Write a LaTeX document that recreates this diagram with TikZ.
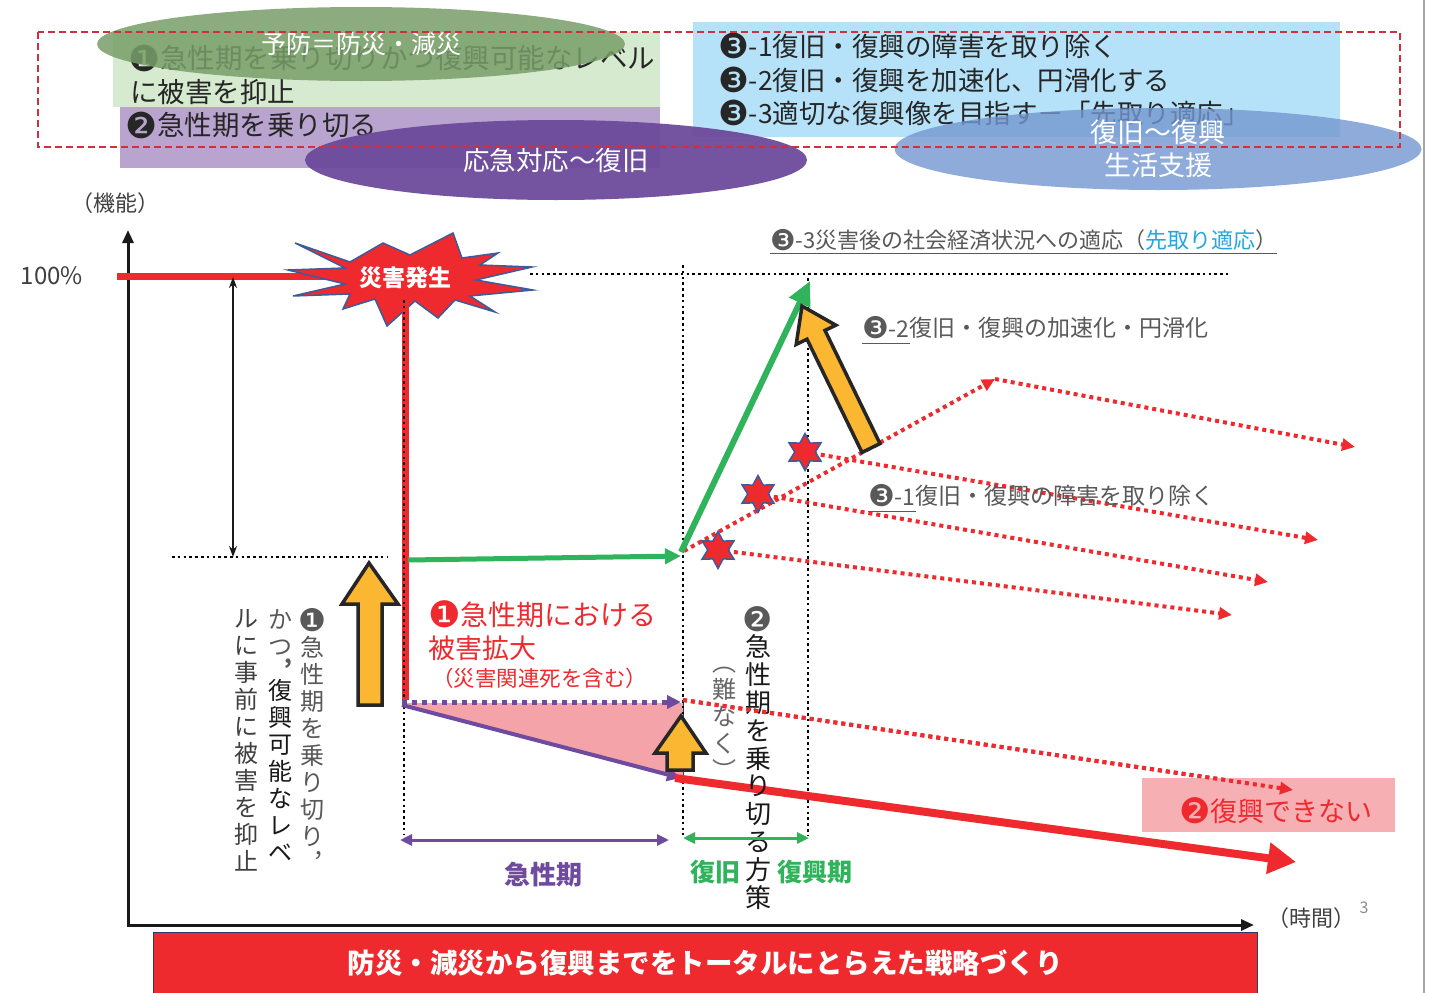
\documentclass[tikz,border=0pt]{standalone}
\usepackage{fontspec}
\usepackage{graphicx}
\setmainfont{Noto Sans CJK JP}
\newfontfamily\djv{DejaVu Sans}
\usetikzlibrary{arrows.meta,shapes.geometric}
\newcommand\cnum[1]{\raisebox{-0.08em}{\scalebox{1.3}{\djv #1}}}
\newcommand\fsz[1]{\fontsize{#1}{#1}\selectfont}
\definecolor{myred}{HTML}{EE2A2F}
\definecolor{mygreen}{HTML}{2FB35B}
\definecolor{mypurple}{HTML}{6F4BA0}
\definecolor{orangef}{HTML}{FBB632}
\definecolor{starblue}{HTML}{3A5C9C}
\definecolor{egreen}{HTML}{789E69}
\definecolor{lgreen}{HTML}{D6EAD0}
\definecolor{lpurple}{HTML}{B9A4CF}
\definecolor{epurple}{HTML}{6D4A9C}
\definecolor{lblue}{HTML}{B5E2F8}
\definecolor{eblue}{HTML}{7397D1}
\definecolor{pinkfill}{HTML}{F4A3A8}
\definecolor{pinkbox}{HTML}{F6AFB3}
\definecolor{cyanc}{HTML}{22A7E0}
\definecolor{txtgray}{HTML}{595959}
\definecolor{navy}{HTML}{2B3A67}
\definecolor{dashred}{HTML}{D0303E}
\begin{document}
\begin{tikzpicture}[x=1pt,y=-1pt,
  blackdot/.style={black, line width=2.6pt, dash pattern=on 2.6pt off 3.2pt},
  reddot/.style={myred, line width=4pt, dash pattern=on 4pt off 4pt, -{Triangle[length=13pt,width=12pt]}},
  blockarrow/.style={fill=orangef, draw=black!85, line width=3.5pt, line join=miter},
  txt/.style={inner sep=0pt, outer sep=0pt},
  boxr/.style={anchor=north west, inner sep=0pt, outer sep=0pt},
  ell/.style={ellipse, inner sep=0pt, fill opacity=0.85, text opacity=1, text=white},
  starnode/.style={star, star points=6, star point ratio=1.8, minimum size=37pt, inner sep=0pt, fill=myred, draw=starblue, line width=1.5pt},
  vert/.style={inner sep=0pt, anchor=north, align=center, font=\fontsize{24}{27}\selectfont},
  ]
\useasboundingbox (0,0) rectangle (1430,993);
\fill[white] (0,0) rectangle (1430,993);
\draw[black!35, line width=1.2pt] (1424,0) -- (1424,993);

% ---------- top boxes ----------
\node[boxr, fill=lgreen, minimum width=547pt, minimum height=75pt] (gbox) at (113,32) {};
\node[boxr, fill=lpurple, minimum width=540pt, minimum height=61pt] (pbox) at (120,107) {};
\node[boxr, fill=lblue, minimum width=647pt, minimum height=115pt] (bbox) at (693,22) {};

\node[txt, anchor=west, font=\fsz{27.5}, text=black!85] (t1a) at (128,58) {\cnum{❶}急性期を乗り切りかつ復興可能なレベル};
\node[txt, anchor=west, font=\fsz{27.5}, text=black!85] (t1b) at (130,92) {に被害を抑止};
\node[txt, anchor=west, font=\fsz{27.5}, text=black!85] (t2) at (125,125) {\cnum{❷}急性期を乗り切る};
\node[txt, anchor=west, font=\fsz{26.5}, text=black!85] (t31) at (718,46) {\cnum{❸}-1復旧・復興の障害を取り除く};
\node[txt, anchor=west, font=\fsz{26.5}, text=black!85] (t32) at (718,80) {\cnum{❸}-2復旧・復興を加速化、円滑化する};
\node[txt, anchor=west, font=\fsz{26.5}, text=black!85] (t33) at (718,113) {\cnum{❸}-3適切な復興像を目指す－「先取り適応」};

\node[ell, fill=egreen, minimum width=528pt, minimum height=74pt, font=\fsz{25}] (eG) at (361,44) {予防＝防災・減災};
\node[ell, fill=epurple, fill opacity=0.95, minimum width=502pt, minimum height=80pt, font=\fsz{26.5}] (eP) at (556,160) {応急対応～復旧};
\node[ell, fill=eblue, fill opacity=0.8, minimum width=527pt, minimum height=82pt, align=center, font=\fontsize{27}{33}\selectfont] (eB) at (1158,149) {復旧～復興\\生活支援};

\draw[dashred, line width=1.6pt, dash pattern=on 7pt off 4pt] (38,32) rectangle (1400,147);

% ---------- coordinates ----------
\coordinate (Ytop) at (128,230);
\coordinate (O) at (128,925);
\coordinate (Xend) at (1254,925);
\coordinate (R100a) at (117,276);
\coordinate (R100b) at (330,276);
\coordinate (Da) at (233,277);
\coordinate (Db) at (233,557);
\coordinate (Ha) at (172,557);
\coordinate (Hb) at (388,557);
\coordinate (Va) at (405,296);
\coordinate (Vb) at (405,700);
\coordinate (Vc) at (404,300);
\coordinate (Vd) at (404,835);
\coordinate (W1a) at (683,265);
\coordinate (W1b) at (683,835);
\coordinate (W2a) at (808,278);
\coordinate (W2b) at (808,835);
\coordinate (Ta) at (530,274);
\coordinate (Tb) at (1228,274);
\coordinate (G0) at (408,560);
\coordinate (G1) at (681,556);
\coordinate (G1b) at (681,552);
\coordinate (G2) at (810,281);
\coordinate (R0) at (684,551);
\coordinate (R1) at (995,379);
\coordinate (R2) at (1355,447);
\coordinate (E1) at (1232,615);
\coordinate (E2) at (1268,582);
\coordinate (E3) at (1318,540);
\coordinate (Q0) at (683,700);
\coordinate (Q1) at (1293,790);
\coordinate (K0) at (675,778);
\coordinate (K1) at (1296,862);
\coordinate (P0) at (402,702);
\coordinate (P1) at (681,702);
\coordinate (P2) at (402,705);
\coordinate (P3) at (681,778);
\coordinate (A0) at (400,840);
\coordinate (A1) at (669,840);
\coordinate (B0) at (683,838);
\coordinate (B1) at (809,838);

% pink loss area
\fill[pinkfill] (402,703) -- (683,703) -- (683,781) -- cycle;
\draw[navy, line width=1pt] (683,703) -- (683,781);

% axes
\draw[black!90, line width=3pt, {Triangle[length=13pt,width=11pt]}-{Triangle[length=13pt,width=11pt]}] (Ytop) -- (O) -- (Xend);

% 100% level
\draw[myred, line width=7pt] (R100a) -- (R100b);
\draw[blackdot] (Ta) -- (Tb);
\draw[black!90, line width=1.6pt, {Stealth[length=11pt,width=8pt]}-{Stealth[length=11pt,width=8pt]}] (Da) -- (Db);
\draw[blackdot] (Ha) -- (Hb);

% vertical guides
\draw[myred, line width=7pt] (Va) -- (Vb);
\draw[blackdot] (Vc) -- (Vd);
\draw[blackdot] (W1a) -- (W1b);
\draw[blackdot] (W2a) -- (W2b);

% red dotted lines
\draw[reddot] (Q0) -- (Q1);
\draw[reddot] (R0) -- (R1);
\draw[reddot] (R1) -- (R2);
\coordinate (s1c) at (718,550);
\coordinate (s2c) at (758,494);
\coordinate (s3c) at (805,452);
\draw[reddot] (s1c) -- (E1);
\draw[reddot] (s2c) -- (E2);
\draw[reddot] (s3c) -- (E3);
\node[starnode] (s1) at (s1c) {};
\node[starnode] (s2) at (s2c) {};
\node[starnode] (s3) at (s3c) {};

% purple lines
\draw[mypurple, line width=5pt, dash pattern=on 5pt off 5pt, -{Triangle[length=14pt,width=13pt]}] (P0) -- (P1);
\draw[mypurple, line width=4pt, -{Triangle[length=14pt,width=13pt]}] (P2) -- (P3);

% red thick decline
\draw[myred, line width=8pt, -{Triangle[length=28pt,width=30pt]}] (K0) -- (K1);

% green recovery
\draw[mygreen, line width=5pt, -{Triangle[length=16pt,width=15pt]}] (G0) -- (G1);
\draw[mygreen, line width=6pt, -{Triangle[length=24pt,width=22pt]}] (G1b) -- (G2);

% orange block arrows
\draw[blockarrow] (369,563) -- (398,604) -- (382,604) -- (382,705) -- (358,705) -- (358,604) -- (342,604) -- cycle;
\draw[blockarrow] (681,716) -- (706,753) -- (693,753) -- (693,770) -- (667,770) -- (667,753) -- (655,753) -- cycle;
\draw[blockarrow] (802,306) -- (835.8,325.2) -- (825,330.4) -- (880,443.6) -- (862,452.4) -- (807,339.2) -- (796.2,344.4) -- cycle;

% starburst
\draw[fill=myred, draw=starblue, line width=1.5pt, line join=miter]
  (295,243) -- (350,262) -- (383,243) -- (410,255) -- (453,233) -- (462,258) -- (498,253) -- (480,265)
  -- (532,267) -- (476,280) -- (533,290) -- (470,296) -- (495,312) -- (455,300) -- (438,318) -- (415,301)
  -- (387,326) -- (375,299) -- (343,309) -- (350,294) -- (293,296) -- (345,284) -- (288,270) -- (345,268) -- cycle;
\node[txt, text=white, font=\bfseries\fsz{23}] (burst) at (405,278) {災害発生};
\draw[myred, line width=7pt] (405,296) -- (405,318);
\draw[blackdot] (404,300) -- (404,318);

% ---------- labels ----------
\node[txt, text=black!75, font=\fsz{22}] (kino) at (115,203) {（機能）};
\node[txt, text=black!75, font=\fsz{24}] (p100) at (52,276) {100\%};
\node[txt, text=black!75, font=\fsz{22}] (jikan) at (1311,918) {（時間）};
\node[txt, text=black!45, font=\fsz{16}] (pg) at (1364,908) {3};

\node[txt, anchor=west, text=txtgray, font=\fsz{22}] (l33) at (770,240) {\cnum{❸}-3災害後の社会経済状況への適応（\textcolor{cyanc}{先取り適応}）};
\draw[txtgray, line width=1.2pt] ([yshift=-3pt]l33.south west) -- ([yshift=-3pt]l33.south east);

\node[txt, anchor=west, text=txtgray, font=\fsz{23}] (l32a) at (862,328) {\cnum{❸}-2};
\node[txt, anchor=west, text=txtgray, font=\fsz{23}] (l32b) at (l32a.east) {復旧・復興の加速化・円滑化};
\draw[txtgray, line width=1.2pt] ([yshift=-4pt]l32a.south west) -- ([yshift=-4pt]l32a.south east);

\node[txt, anchor=west, text=txtgray, font=\fsz{23}] (l31a) at (868,496) {\cnum{❸}-1};
\node[txt, anchor=west, text=txtgray, font=\fsz{23}] (l31b) at (l31a.east) {復旧・復興の障害を取り除く};
\draw[txtgray, line width=1.2pt] ([yshift=-4pt]l31a.south west) -- ([yshift=-4pt]l31a.south east);

\node[txt, anchor=west, text=myred, font=\fsz{28}] (k1) at (428,614) {\cnum{❶}急性期における};
\node[txt, anchor=west, text=myred, font=\fsz{27}] (k2) at (428,648) {被害拡大};
\node[txt, anchor=west, text=myred, font=\fsz{21.5}] (k3) at (432,678) {（災害関連死を含む）};

% vertical texts
\node[vert, text=black!65] (vc1) at (312,608) {\cnum{❶}\\急\\性\\期\\を\\乗\\り\\切\\り\\︐};
\node[vert, text=black!65] (vc2a) at (280,609) {か\\つ};
\node[txt, text=black!65, font=\bfseries\fsz{22}] (vc2c) at (288,664) {,};
\node[vert, text=black!90] (vc2b) at (280,679) {復\\興\\可\\能\\な\\レ\\ベ};
\node[vert, text=black!75] (vc3) at (246,609) {ル\\に\\事\\前\\に\\被\\害\\を\\抑\\止};
\node[vert, text=black!90, font=\fontsize{26}{27.8}\selectfont] (vc4) at (758,606) {{\color{black!65}\cnum{❷}}\\急\\性\\期\\を\\乗\\り\\切\\る\\方\\策};
\node[vert, text=black!60] (vc5) at (724,667) {︵\\難\\な\\く\\︶};

% period arrows
\draw[mypurple, line width=3pt, {Triangle[length=12pt,width=11pt]}-{Triangle[length=12pt,width=11pt]}] (A0) -- (A1);
\draw[mygreen, line width=3pt, {Triangle[length=12pt,width=11pt]}-{Triangle[length=12pt,width=11pt]}] (B0) -- (B1);
\node[txt, text=mypurple, font=\bfseries\fsz{26}] (kyu) at (543,875) {急性期};
\node[txt, text=mygreen, font=\bfseries\fsz{25}] (fk) at (715,872) {復旧};
\node[txt, text=mygreen, font=\bfseries\fsz{25}] (fkk) at (815,872) {復興期};

% cannot recover box
\node[boxr, fill=pinkbox, minimum width=253pt, minimum height=54pt] (pinkb) at (1142,778) {};
\node[txt, text=myred, font=\fsz{27}] (nofk) at (1276,811) {\cnum{❷}復興できない};
\draw[reddot] (Q0) -- (Q1);

% banner
\node[boxr, fill=myred, draw=navy, line width=1pt, minimum width=1104pt, minimum height=75pt] (banner) at (153,932) {};
\node[txt, text=white, font=\bfseries\fsz{27.5}] (bannert) at (705,963) {防災・減災から復興までをトータルにとらえた戦略づくり};
\end{tikzpicture}
\end{document}
